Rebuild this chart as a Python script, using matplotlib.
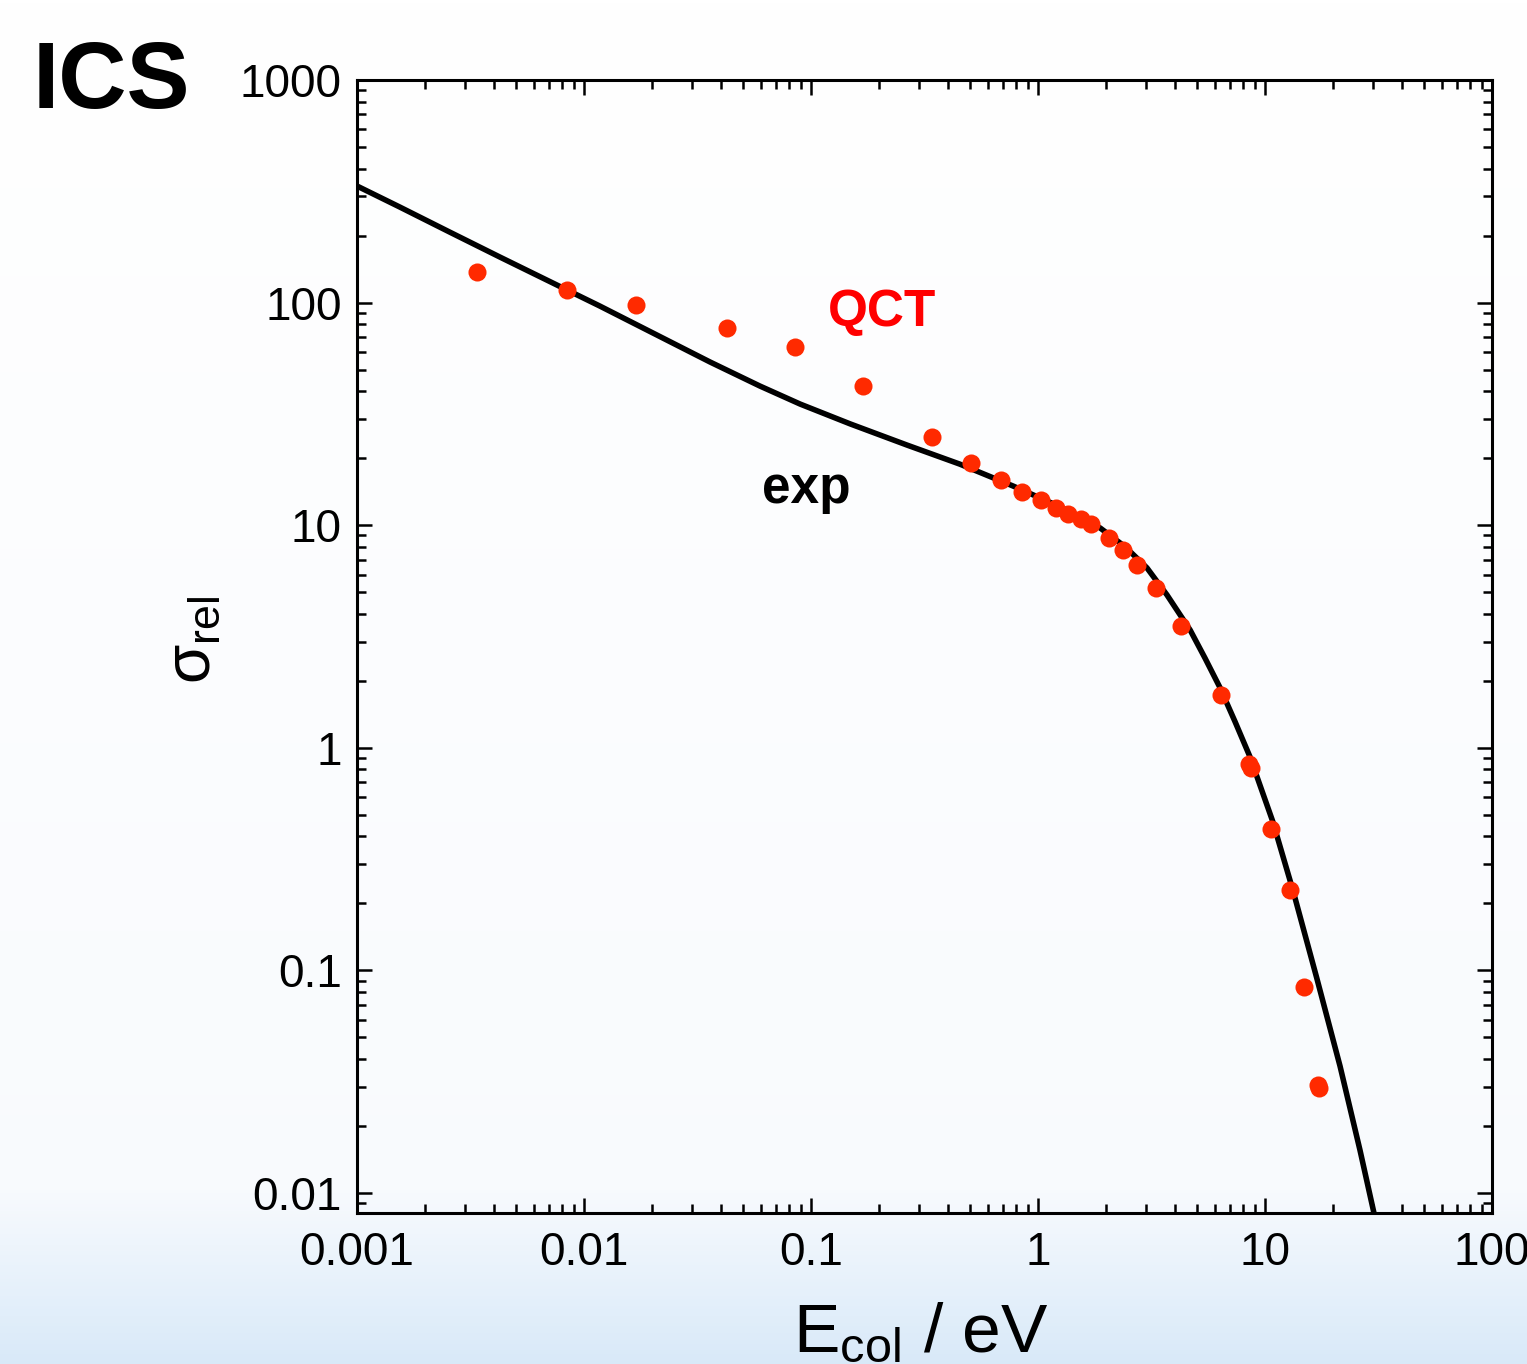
import numpy as np
import matplotlib
matplotlib.use("Agg")
import matplotlib.pyplot as plt
from matplotlib.ticker import LogLocator, NullFormatter, FixedLocator, FixedFormatter

plt.rcParams['font.family'] = ['Liberation Sans', 'DejaVu Sans']
plt.rcParams['mathtext.fontset'] = 'custom'
plt.rcParams['mathtext.rm'] = 'Liberation Sans'
plt.rcParams['mathtext.it'] = 'Liberation Sans'
plt.rcParams['mathtext.sf'] = 'Liberation Sans'

# Experimental curve (exp)
exp_E = [0.001, 0.00154, 0.00257, 0.00427, 0.00841, 0.01174, 0.0182, 0.0359,
         0.0595, 0.0896, 0.149, 0.265, 0.453, 0.776, 1.25, 1.88, 2.42, 3.02,
         3.70, 4.68, 5.44, 6.34, 7.38, 8.59, 10.8, 13.3, 16.9, 21.4, 26.2,
         30.2, 32.1]
exp_sigma = [334, 269, 207, 160, 114, 96.5, 76.9, 54.1, 42.2, 35.0, 28.5,
             22.9, 18.8, 15.0, 12.1, 9.71, 8.0, 6.43, 4.86, 3.38, 2.53, 1.86,
             1.31, 0.910, 0.469, 0.2275, 0.0925, 0.0372, 0.0156, 0.00813,
             0.00615]

# QCT points
qct_E = [0.00338, 0.00844, 0.0170, 0.0428, 0.0853, 0.170, 0.340, 0.509, 0.684,
         0.847, 1.03, 1.20, 1.36, 1.54, 1.71, 2.05, 2.38, 2.72, 3.30, 4.25,
         6.38, 8.49, 8.65, 10.6, 12.9, 14.8, 17.1, 17.3]
qct_sigma = [137, 114, 97.5, 76.9, 63.2, 42.2, 24.9, 19.0, 16.0, 14.1, 13.0,
             11.9, 11.2, 10.7, 10.1, 8.77, 7.74, 6.63, 5.22, 3.53, 1.73, 0.845,
             0.811, 0.432, 0.230, 0.0842, 0.0306, 0.0297]

x_ticks = [0.001, 0.01, 0.1, 1, 10, 100]
x_ticklabels = ['0.001', '0.01', '0.1', '1', '10', '100']
y_ticks = [0.01, 0.1, 1, 10, 100, 1000]
y_ticklabels = ['0.01', '0.1', '1', '10', '100', '1000']

W, H = 1527, 1364
fig = plt.figure(figsize=(W / 100, H / 100), dpi=100)

# background gradient (white to light blue at bottom)
bg = fig.add_axes([0, 0, 1, 1], zorder=-10)
bg.axis('off')
ny = 400
yy = np.linspace(0, 1, ny)  # 0 top, 1 bottom
top_c = np.array([1.0, 1.0, 1.0])
mid_c = np.array([0.975, 0.983, 0.995])
bot_c = np.array([0.850, 0.915, 0.975])
cols = np.zeros((ny, 1, 3))
for i, t in enumerate(yy):
    if t < 0.87:
        f = t / 0.87
        c = top_c + (mid_c - top_c) * f
    else:
        f = (t - 0.87) / 0.13
        c = mid_c + (bot_c - mid_c) * f
    cols[i, 0] = c
bg.imshow(cols, aspect='auto', extent=[0, 1, 0, 1], origin='upper')
bg.set_xlim(0, 1)
bg.set_ylim(0, 1)

ax = fig.add_axes([357 / W, 1 - 1213 / H, (1492 - 357) / W, (1213 - 80) / H])
ax.set_facecolor('none')
ax.set_xscale('log')
ax.set_yscale('log')
ax.set_xlim(0.001, 100)
ax.set_ylim(0.00813, 1000)

ax.plot(exp_E, exp_sigma, color='black', lw=4.0, solid_capstyle='butt',
        solid_joinstyle='round', zorder=2)
ax.plot(qct_E, qct_sigma, 'o', color='#ff2a00', markersize=13, markeredgewidth=0, zorder=3)

ax.xaxis.set_major_locator(FixedLocator(x_ticks))
ax.xaxis.set_major_formatter(FixedFormatter(x_ticklabels))
ax.yaxis.set_major_locator(FixedLocator(y_ticks))
ax.yaxis.set_major_formatter(FixedFormatter(y_ticklabels))
ax.xaxis.set_minor_locator(LogLocator(base=10, subs=np.arange(2, 10), numticks=20))
ax.yaxis.set_minor_locator(LogLocator(base=10, subs=np.arange(2, 10), numticks=20))
ax.xaxis.set_minor_formatter(NullFormatter())
ax.yaxis.set_minor_formatter(NullFormatter())

ax.tick_params(which='both', direction='in', top=True, right=True, width=1.8, colors='black')
ax.tick_params(which='major', length=11, labelsize=33)
ax.tick_params(which='minor', length=6.5)
ax.tick_params(axis='y', which='major', pad=11)
ax.tick_params(axis='x', which='major', pad=13)
for s in ax.spines.values():
    s.set_linewidth(2.2)

fig.text(33 / W, 1 - 108 / H, 'ICS', fontsize=68, fontweight='bold', ha='left', va='baseline')
ax.text(0.119, 90, 'QCT', color='#ff0000', fontsize=37, fontweight='bold', ha='left', va='center')
ax.text(0.095, 14.4, 'exp', color='black', fontsize=37, fontweight='bold', ha='center', va='center')

fig.text(921 / W, 1 - 1352 / H, r'E$_{\mathrm{col}}$ / eV', fontsize=50, ha='center', va='baseline')
fig.text(193 / W, 1 - 640 / H, r'$\sigma_{\mathrm{rel}}$', fontsize=46, ha='center', va='center', rotation=90)

fig.savefig('out.png', dpi=100)
